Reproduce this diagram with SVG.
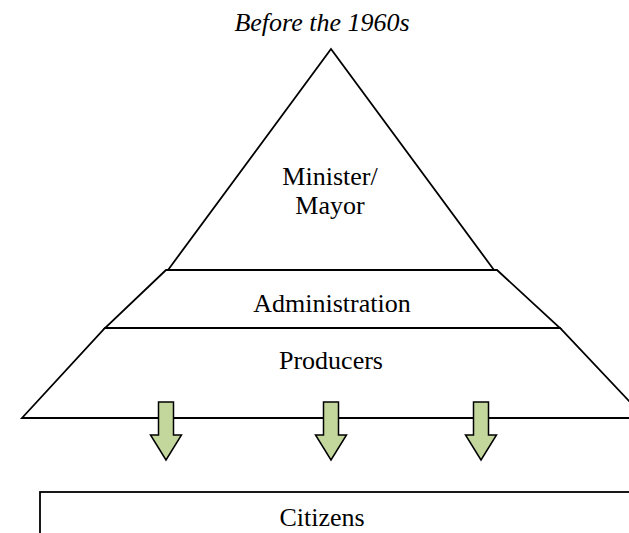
<svg xmlns="http://www.w3.org/2000/svg" width="629" height="533" viewBox="0 0 629 533">
  <style>
    .shape { fill: #ffffff; stroke: #000000; stroke-width: 1.8; stroke-linejoin: miter; }
    .label { font-family: "Liberation Serif", "Times New Roman", serif; font-size: 26px; fill: #000000; text-anchor: middle; }
    .title { font-style: italic; }
    .flow { fill: #c3d69b; stroke: #000000; stroke-width: 1.5; }
  </style>
  <defs>
    <path id="down-arrow" d="M -7.5 0 L 7.5 0 L 7.5 33 L 15.5 33 L 0 58 L -15.5 33 L -7.5 33 Z"/>
  </defs>
  <rect width="629" height="533" fill="#ffffff"/>

  <text class="label title" x="322" y="31">Before the 1960s</text>

  <g id="minister">
    <polygon class="shape" points="331,49 168,270 494,270"/>
    <text class="label" x="330" y="185">Minister/</text>
    <text class="label" x="330" y="214">Mayor</text>
  </g>

  <g id="administration">
    <polygon class="shape" points="166,270 497,270 560,328 105,328"/>
    <text class="label" x="332" y="312">Administration</text>
  </g>

  <g id="producers">
    <polygon class="shape" points="105,328 560,328 645,418 22,418"/>
    <text class="label" x="331" y="369">Producers</text>
  </g>

  <g id="connectors">
    <use href="#down-arrow" class="flow" x="166" y="402"/>
    <use href="#down-arrow" class="flow" x="331" y="402"/>
    <use href="#down-arrow" class="flow" x="481" y="402"/>
  </g>

  <g id="citizens">
    <rect class="shape" x="40" y="492" width="620" height="60"/>
    <text class="label" x="322" y="526">Citizens</text>
  </g>
</svg>
